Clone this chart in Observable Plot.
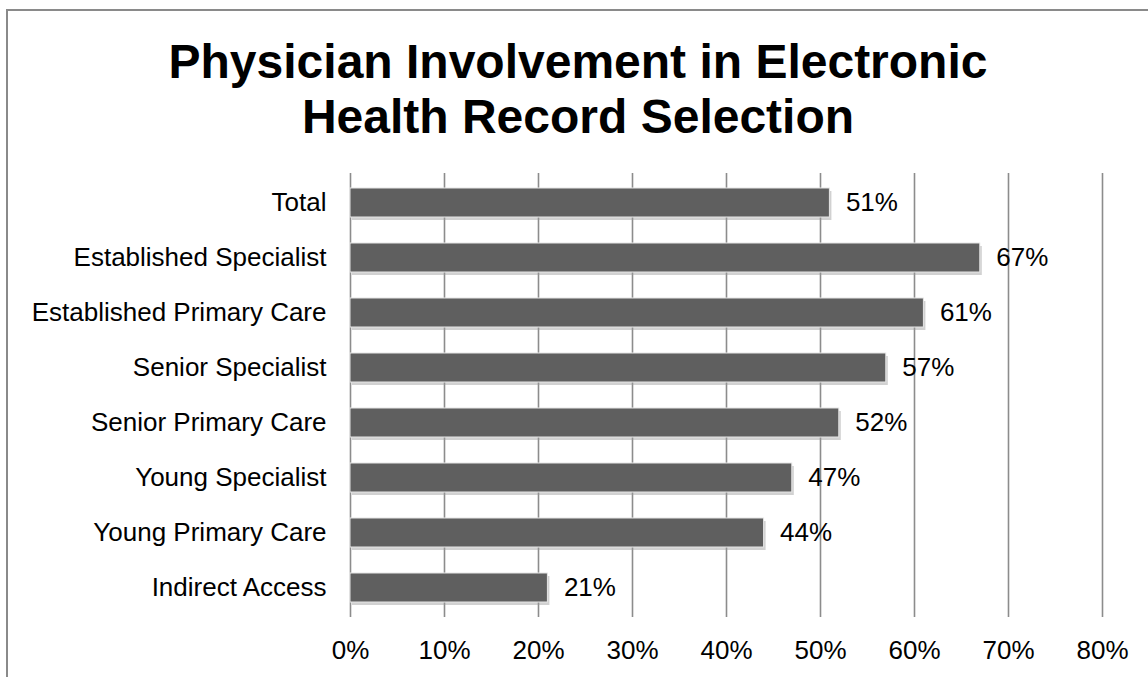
<!DOCTYPE html>
<html>
<head>
<meta charset="utf-8">
<script src="https://cdn.jsdelivr.net/npm/d3@7"></script>
<script src="https://cdn.jsdelivr.net/npm/@observablehq/plot@0.6"></script>
<style>
  html, body { margin: 0; padding: 0; background: #fff; }
  body { width: 1148px; height: 677px; overflow: hidden; position: relative; font-family: "Liberation Sans", Arial, sans-serif; }
  #frame { position: absolute; left: 6px; top: 9px; width: 1200px; height: 700px; border-left: 2px solid #8a8a8a; border-top: 2px solid #8a8a8a; pointer-events: none; }
  #title { height: 160px; box-sizing: border-box; padding-top: 34px; text-align: center; font-weight: bold; font-size: 48px; line-height: 55px; color: #000; padding-left: 8px; }
  #chart svg { display: block; }
</style>
</head>
<body>
<div id="frame"></div>
<div id="title">Physician Involvement in Electronic<br>Health Record Selection</div>
<div id="chart"></div>
<script>
const categories = ["Total", "Established Specialist", "Established Primary Care", "Senior Specialist", "Senior Primary Care", "Young Specialist", "Young Primary Care", "Indirect Access"];
const values = [0.51, 0.67, 0.61, 0.57, 0.52, 0.47, 0.44, 0.21];
const xTicks = [0, 0.1, 0.2, 0.3, 0.4, 0.5, 0.6, 0.7, 0.8];

const data = categories.map((c, i) => ({category: c, value: values[i]}));

const chart = Plot.plot({
  width: 1148,
  height: 517,
  marginLeft: 350,
  marginRight: 46,
  marginTop: 13,
  marginBottom: 60,
  style: {fontFamily: '"Liberation Sans", Arial, sans-serif', fontSize: "26px", color: "#000", background: "transparent"},
  x: {domain: [0, 0.8], ticks: xTicks, tickFormat: d3.format(".0%"), label: null},
  y: {domain: categories, paddingInner: 0.47, paddingOuter: 0.225, label: null},
  marks: [
    Plot.ruleX(xTicks, {stroke: "#8c8c8c", strokeWidth: 1.6}),
    Plot.barX(data, {y: "category", x: "value", fill: "#9a9a9a", fillOpacity: 0.45, dx: 2, dy: 3}),
    Plot.barX(data, {y: "category", x: "value", fill: "#5f5f5f", stroke: "#e6e6e6", strokeWidth: 1}),
    Plot.text(data, {y: "category", x: "value", text: d => Math.round(d.value * 100) + "%", textAnchor: "start", dx: 16, fill: "#000", fontSize: 26}),
    Plot.axisX({ticks: xTicks, tickFormat: d3.format(".0%"), tickSize: 0, tickPadding: 23, label: null, fontSize: 26}),
    Plot.axisY({tickSize: 0, tickPadding: 24, label: null, fontSize: 26})
  ]
});
document.getElementById("chart").appendChild(chart);
</script>
</body>
</html>
